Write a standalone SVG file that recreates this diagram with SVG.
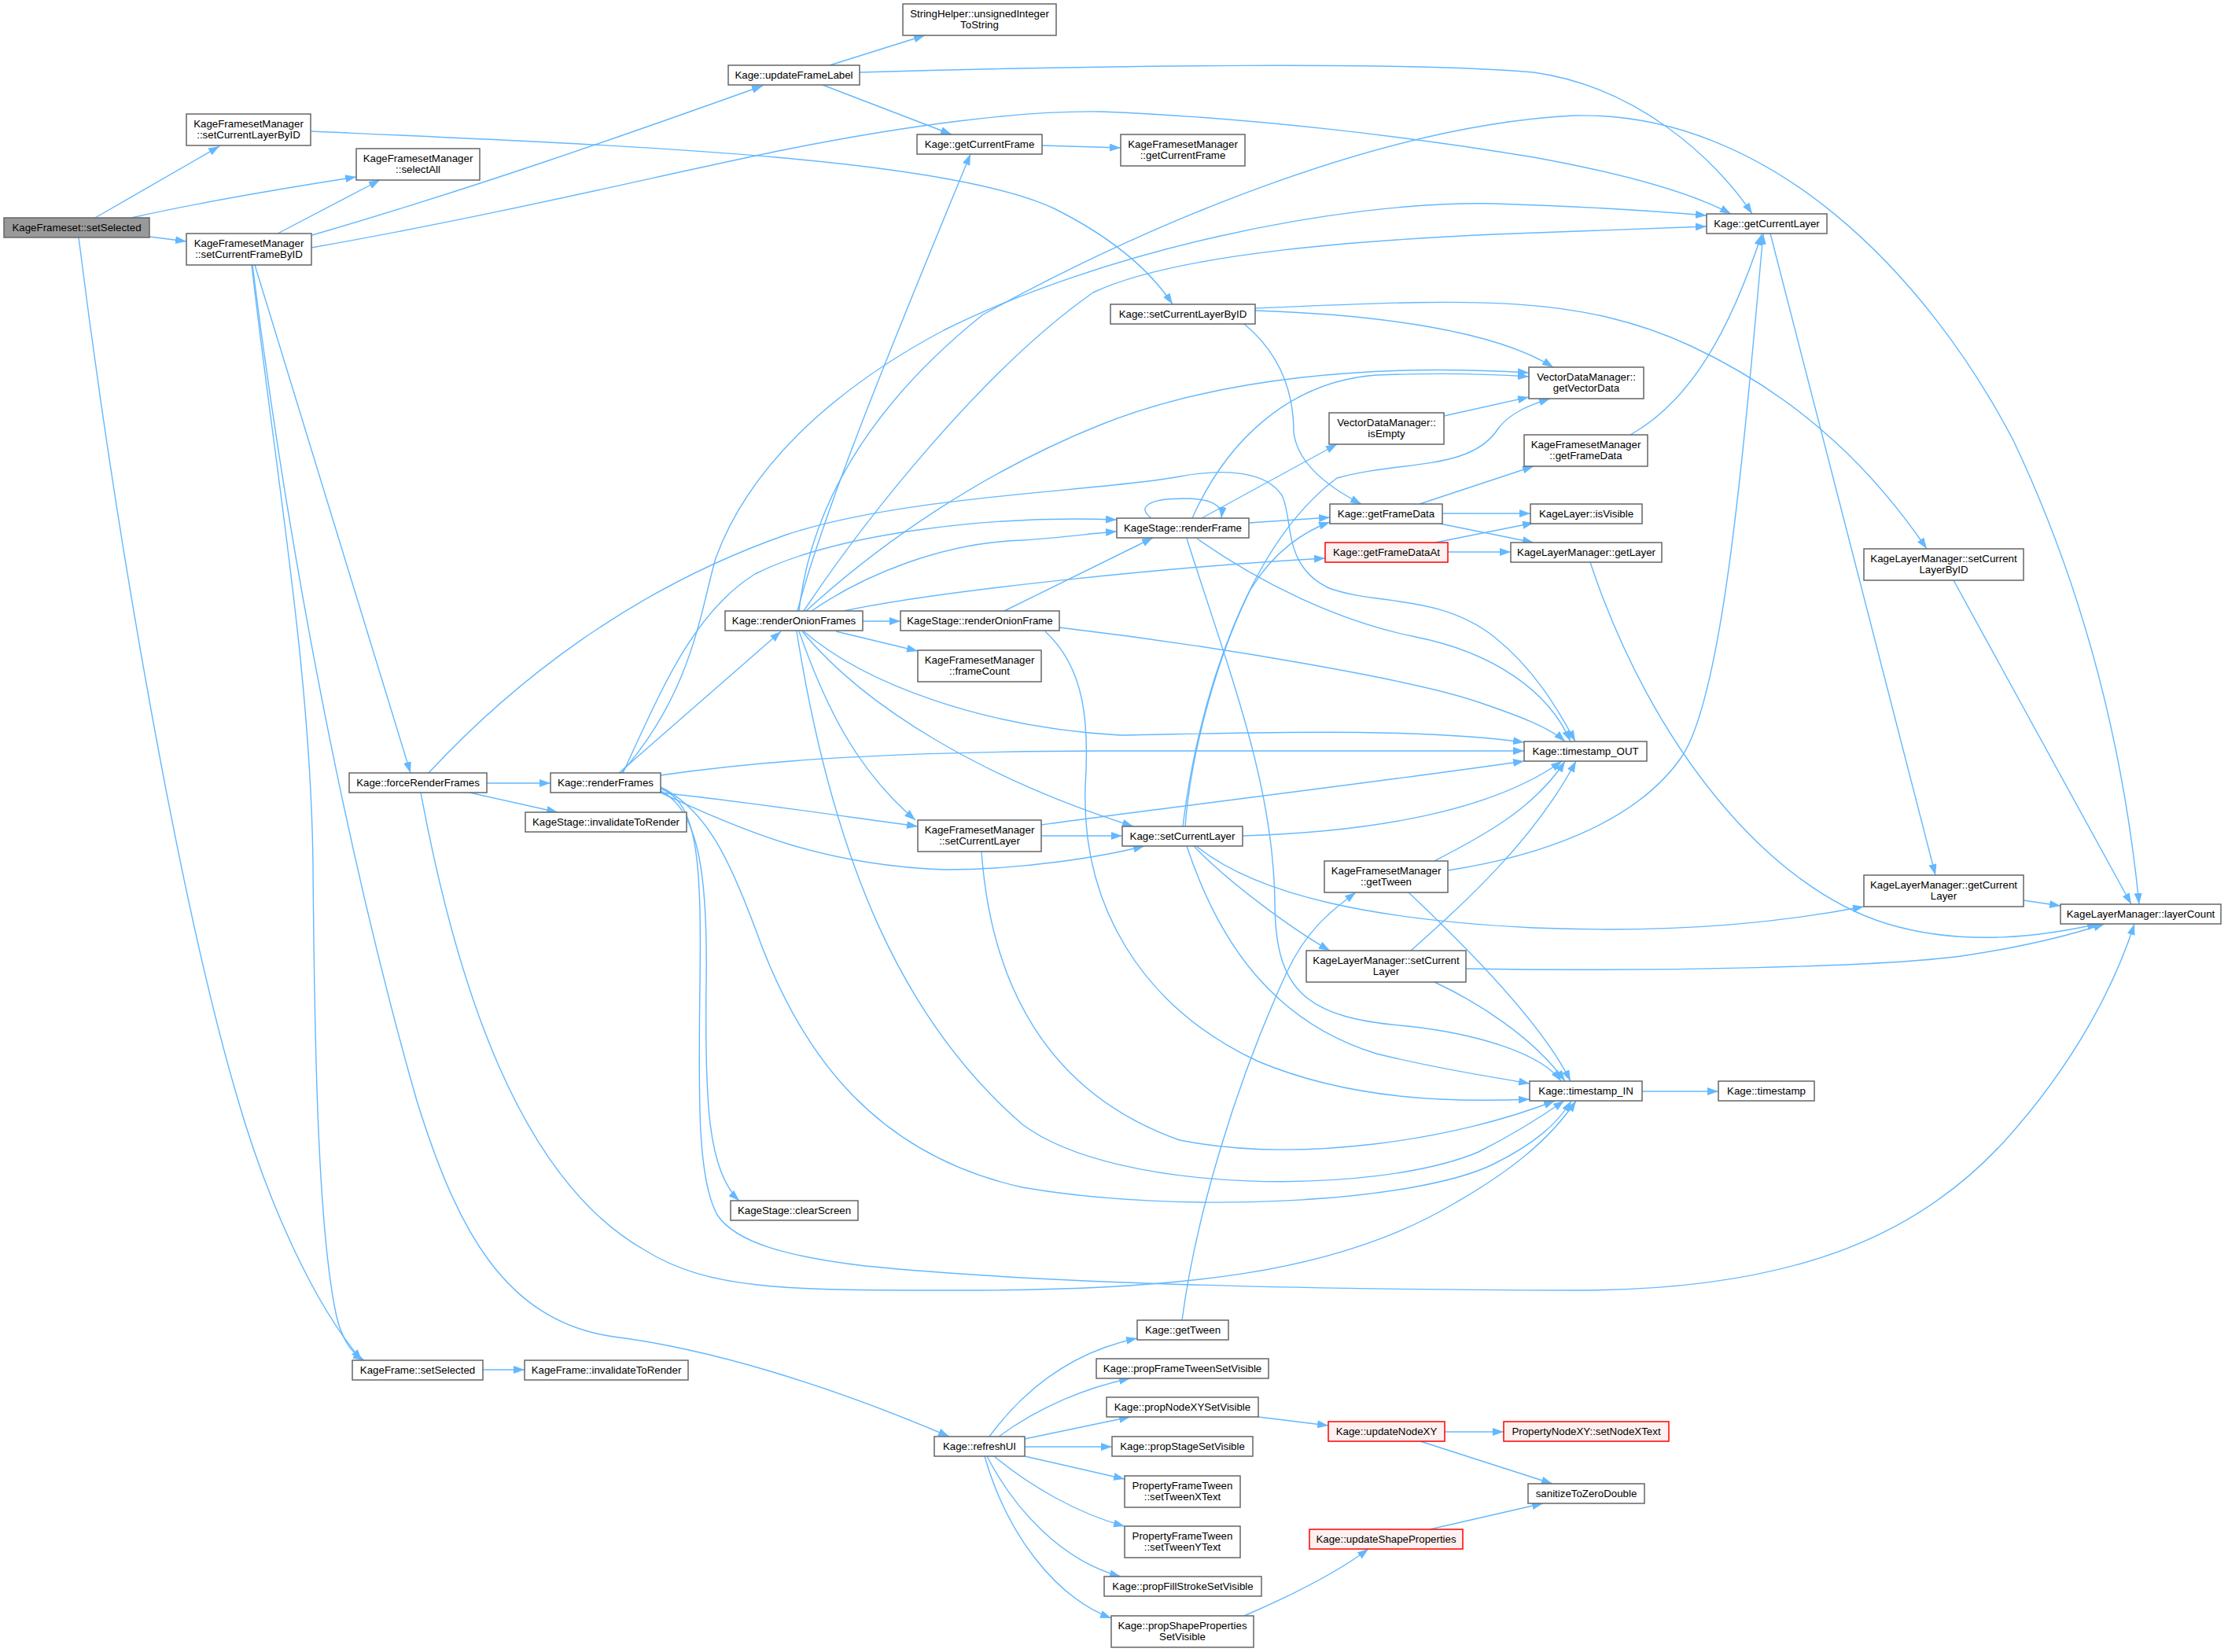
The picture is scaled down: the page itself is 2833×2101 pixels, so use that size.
<svg xmlns="http://www.w3.org/2000/svg" width="2833" height="2101" viewBox="0 0 2833 2101">
<defs>
<marker id="ah" viewBox="0 0 14 10" refX="14" refY="5" markerWidth="14" markerHeight="10" markerUnits="userSpaceOnUse" orient="auto"><path d="M0,0 L14,5 L0,10 z" fill="#63b8ff"/></marker>
<style>
.n rect{fill:#fff;stroke:#666;stroke-width:1.5}
.n.root rect{fill:#999}
.n.red rect{fill:#fff0f0;stroke:#f00}
.n text{font-family:"Liberation Sans",Arial,Helvetica,sans-serif;font-size:13.3px;fill:#000;text-anchor:middle}
#edges path{fill:none;stroke:#63b8ff;stroke-width:1.4;marker-end:url(#ah)}
</style>
</defs>
<rect width="2833" height="2101" fill="#fff"/>
<g id="edges">
<path d="M121,277 L279,186"/>
<path d="M167,277 C 250,258 370,238 453,225"/>
<path d="M190,301 L237,307"/>
<path d="M100,302 C 150,700 230,1150 300,1390 C 340,1530 400,1660 460,1730"/>
<path d="M396,167 C 800,185 1200,200 1340,265 C 1410,300 1460,340 1491,387"/>
<path d="M353,297 L483,229"/>
<path d="M397,299 C 600,240 800,170 970,109"/>
<path d="M396,315 C 650,270 850,220 1000,190 C 1150,160 1300,140 1400,142 C 1600,150 1800,175 1950,200 C 2060,220 2150,245 2201,272"/>
<path d="M324,337 L522,983"/>
<path d="M320,337 C 350,600 395,850 398,1100 C 400,1350 405,1550 425,1660 C 432,1700 445,1720 463,1730"/>
<path d="M321,337 C 360,650 430,1050 530,1400 C 580,1560 640,1680 780,1700 C 900,1715 1050,1760 1207,1827"/>
<path d="M1055,83 L1176,45"/>
<path d="M1046,108 L1210,171"/>
<path d="M1093,92 C 1400,83 1800,78 1950,92 C 2080,110 2180,200 2228,272"/>
<path d="M1325,185 L1425,188"/>
<path d="M1596,395 C 1750,400 1900,420 1975,467"/>
<path d="M1596,392 C 1850,382 2000,370 2150,440 C 2300,510 2390,610 2450,698"/>
<path d="M1582,412 C 1640,460 1645,520 1645,550 C 1650,590 1690,620 1731,641"/>
<path d="M1836,529 L1944,505"/>
<path d="M2073,553 C 2150,510 2200,420 2240,298"/>
<path d="M1805,641 L1950,593"/>
<path d="M1834,653 L1946,653"/>
<path d="M1831,666 L1950,690"/>
<path d="M1825,690 L1950,665"/>
<path d="M1841,702 L1921,702"/>
<path d="M2022,715 C 2100,950 2250,1130 2400,1175 C 2500,1205 2600,1190 2668,1175"/>
<path d="M2484,738 L2710,1150"/>
<path d="M2251,297 L2461,1113"/>
<path d="M2573,1145 L2620,1152"/>
<path d="M1025,777 C 1120,690 1250,600 1400,540 C 1550,480 1750,462 1944,474"/>
<path d="M1516,659 C 1560,560 1640,485 1750,477 C 1830,474 1900,476 1944,479"/>
<path d="M1504,1051 C 1525,880 1590,690 1700,608 C 1780,585 1870,600 1905,545 C 1920,525 1945,515 1971,507"/>
<path d="M1588,665 L1691,658"/>
<path d="M1507,1051 C 1515,950 1550,830 1590,750 C 1620,700 1660,675 1691,664"/>
<path d="M790,983 C 880,880 890,780 910,710 C 950,600 1050,500 1200,420 C 1400,320 1700,255 1900,259 C 2000,262 2100,268 2170,274"/>
<path d="M1016,777 C 1030,650 1100,520 1250,400 C 1450,290 1750,160 2000,147 C 2250,140 2450,350 2560,560 C 2650,750 2700,950 2720,1150"/>
<path d="M1022,777 C 1100,660 1250,470 1390,372 C 1500,320 1750,305 1900,298 C 2000,294 2100,290 2170,288"/>
<path d="M1014,777 C 1050,640 1150,400 1234,196"/>
<path d="M1032,777 C 1100,730 1200,690 1300,687 C 1350,684 1390,678 1420,676"/>
<path d="M1073,777 C 1200,750 1500,720 1685,710"/>
<path d="M1097,790 L1145,790"/>
<path d="M1063,803 L1167,828"/>
<path d="M787,983 L993,803"/>
<path d="M792,983 C 840,880 880,780 960,730 C 1060,680 1250,655 1420,661"/>
<path d="M545,983 C 650,870 800,750 1000,680 C 1150,630 1400,625 1500,606 C 1560,595 1610,600 1630,630 C 1645,660 1630,720 1690,748 C 1750,770 1830,755 1900,810 C 1950,850 1980,900 2003,943"/>
<path d="M840,986 C 950,970 1100,956 1400,955 L1938,955"/>
<path d="M1022,803 C 1100,870 1250,925 1424,935 C 1600,932 1800,925 1938,944"/>
<path d="M1020,803 C 1100,900 1250,990 1441,1051"/>
<path d="M1016,803 C 1050,900 1090,980 1164,1043"/>
<path d="M1013,803 C 1060,1100 1150,1300 1300,1430 C 1420,1520 1750,1520 1880,1465 C 1920,1445 1960,1420 1989,1400"/>
<path d="M840,1001 C 900,1030 930,1100 960,1180 C 1020,1350 1120,1470 1300,1510 C 1500,1545 1800,1530 1900,1480 C 1950,1455 1980,1430 1998,1400"/>
<path d="M1248,1083 C 1260,1250 1330,1390 1500,1450 C 1650,1480 1850,1450 1977,1400"/>
<path d="M535,1008 C 580,1250 660,1500 820,1590 C 900,1640 1000,1641 1200,1641 C 1500,1642 1700,1620 1850,1530 C 1920,1490 1970,1450 2004,1400"/>
<path d="M840,1003 C 888,1020 892,1100 890,1250 C 888,1400 887,1500 912,1545 C 935,1580 1000,1598 1100,1610 C 1300,1630 1600,1640 2000,1641 C 2300,1642 2450,1560 2550,1450 C 2640,1350 2690,1250 2714,1175"/>
<path d="M840,1006 C 890,1030 900,1120 898,1250 C 896,1400 900,1490 940,1527"/>
<path d="M840,1008 C 950,1020 1050,1035 1167,1051"/>
<path d="M840,1008 C 950,1060 1050,1100 1200,1106 C 1300,1106 1400,1090 1455,1076"/>
<path d="M1324,1063 L1427,1063"/>
<path d="M1324,1049 C 1500,1025 1750,995 1938,968"/>
<path d="M1580,1063 C 1750,1058 1900,1030 1986,968"/>
<path d="M1521,1076 C 1600,1140 1750,1170 1950,1180 C 2150,1188 2280,1170 2370,1153"/>
<path d="M1518,1076 C 1560,1120 1640,1180 1691,1209"/>
<path d="M1509,1076 C 1550,1200 1620,1300 1750,1340 C 1830,1360 1900,1370 1945,1378"/>
<path d="M1824,1095 C 1880,1066 1950,1030 1990,968"/>
<path d="M1841,1107 C 1950,1090 2080,1050 2140,960 C 2190,880 2215,600 2242,297"/>
<path d="M1791,1135 C 1860,1200 1960,1300 1997,1375"/>
<path d="M1794,1209 C 1860,1150 1950,1070 2004,968"/>
<path d="M1824,1249 C 1880,1275 1950,1320 1990,1375"/>
<path d="M1864,1232 C 2100,1236 2400,1230 2500,1215 C 2580,1203 2630,1190 2676,1175"/>
<path d="M1522,685 C 1600,740 1700,790 1800,810 C 1900,830 1970,880 1997,943"/>
<path d="M1509,685 C 1565,860 1620,1000 1621,1150 C 1622,1260 1660,1295 1790,1305 C 1880,1315 1960,1340 1985,1375"/>
<path d="M1347,798 C 1550,822 1800,865 1880,893 C 1930,910 1970,925 1990,943"/>
<path d="M1277,777 L1466,684"/>
<path d="M1329,803 C 1380,850 1385,920 1380,1000 C 1375,1150 1450,1280 1600,1350 C 1720,1400 1850,1402 1945,1398"/>
<path d="M1464,659 C 1445,645 1460,634 1505,634 C 1540,634 1555,642 1553,659"/>
<path d="M1528,659 L1700,565"/>
<path d="M2088,1388 L2185,1388"/>
<path d="M1503,1679 C 1520,1550 1570,1380 1636,1237 C 1660,1185 1690,1160 1724,1135"/>
<path d="M1258,1827 C 1300,1770 1360,1720 1446,1702"/>
<path d="M1270,1827 C 1320,1790 1380,1765 1437,1753"/>
<path d="M1303,1830 L1437,1802"/>
<path d="M1303,1840 L1414,1840"/>
<path d="M1303,1852 L1430,1881"/>
<path d="M1264,1852 C 1310,1890 1370,1925 1430,1941"/>
<path d="M1255,1852 C 1290,1920 1350,1985 1425,2005"/>
<path d="M1252,1852 C 1280,1950 1340,2030 1413,2058"/>
<path d="M1600,1802 L1689,1813"/>
<path d="M1837,1821 L1912,1821"/>
<path d="M1806,1833 L1974,1887"/>
<path d="M1818,1945 L1962,1912"/>
<path d="M1582,2055 C 1640,2030 1700,2000 1740,1970"/>
<path d="M619,996 L700,996"/>
<path d="M597,1008 L709,1033"/>
<path d="M614,1742 L667,1742"/>
</g>
<g id="n1" class="n root"><rect x="5" y="277" width="185" height="25"/><text x="97.5" y="294">KageFrameset::setSelected</text></g>
<g id="n2" class="n"><rect x="237" y="145" width="158" height="40"/><text x="316" y="162">KageFramesetManager</text><text x="316" y="176">::setCurrentLayerByID</text></g>
<g id="n3" class="n"><rect x="453" y="189" width="157" height="40"/><text x="531.5" y="206">KageFramesetManager</text><text x="531.5" y="220">::selectAll</text></g>
<g id="n4" class="n"><rect x="237" y="297" width="159" height="40"/><text x="316.5" y="314">KageFramesetManager</text><text x="316.5" y="328">::setCurrentFrameByID</text></g>
<g id="n5" class="n"><rect x="926" y="83" width="167" height="25"/><text x="1009.5" y="100">Kage::updateFrameLabel</text></g>
<g id="n6" class="n"><rect x="1148" y="5" width="195" height="40"/><text x="1245.5" y="22">StringHelper::unsignedInteger</text><text x="1245.5" y="36">ToString</text></g>
<g id="n7" class="n"><rect x="1166" y="171" width="159" height="25"/><text x="1245.5" y="188">Kage::getCurrentFrame</text></g>
<g id="n8" class="n"><rect x="1425" y="171" width="158" height="40"/><text x="1504" y="188">KageFramesetManager</text><text x="1504" y="202">::getCurrentFrame</text></g>
<g id="n9" class="n"><rect x="2170" y="272" width="153" height="25"/><text x="2246.5" y="289">Kage::getCurrentLayer</text></g>
<g id="n10" class="n"><rect x="1412" y="387" width="184" height="25"/><text x="1504" y="404">Kage::setCurrentLayerByID</text></g>
<g id="n11" class="n"><rect x="1944" y="467" width="146" height="40"/><text x="2017" y="484">VectorDataManager::</text><text x="2017" y="498">getVectorData</text></g>
<g id="n12" class="n"><rect x="1690" y="525" width="146" height="40"/><text x="1763" y="542">VectorDataManager::</text><text x="1763" y="556">isEmpty</text></g>
<g id="n13" class="n"><rect x="1938" y="553" width="157" height="40"/><text x="2016.5" y="570">KageFramesetManager</text><text x="2016.5" y="584">::getFrameData</text></g>
<g id="n14" class="n"><rect x="1691" y="641" width="143" height="25"/><text x="1762.5" y="658">Kage::getFrameData</text></g>
<g id="n15" class="n"><rect x="1946" y="641" width="142" height="25"/><text x="2017" y="658">KageLayer::isVisible</text></g>
<g id="n16" class="n"><rect x="1420" y="659" width="168" height="25"/><text x="1504" y="676">KageStage::renderFrame</text></g>
<g id="n17" class="n red"><rect x="1685" y="690" width="156" height="25"/><text x="1763" y="707">Kage::getFrameDataAt</text></g>
<g id="n18" class="n"><rect x="1921" y="690" width="192" height="25"/><text x="2017" y="707">KageLayerManager::getLayer</text></g>
<g id="n19" class="n"><rect x="2370" y="698" width="203" height="40"/><text x="2471.5" y="715">KageLayerManager::setCurrent</text><text x="2471.5" y="729">LayerByID</text></g>
<g id="n20" class="n"><rect x="922" y="777" width="175" height="25"/><text x="1009.5" y="794">Kage::renderOnionFrames</text></g>
<g id="n21" class="n"><rect x="1145" y="777" width="202" height="25"/><text x="1246" y="794">KageStage::renderOnionFrame</text></g>
<g id="n22" class="n"><rect x="1167" y="827" width="157" height="40"/><text x="1245.5" y="844">KageFramesetManager</text><text x="1245.5" y="858">::frameCount</text></g>
<g id="n23" class="n"><rect x="1938" y="943" width="156" height="25"/><text x="2016" y="960">Kage::timestamp_OUT</text></g>
<g id="n24" class="n"><rect x="444" y="983" width="175" height="25"/><text x="531.5" y="1000">Kage::forceRenderFrames</text></g>
<g id="n25" class="n"><rect x="700" y="983" width="140" height="25"/><text x="770" y="1000">Kage::renderFrames</text></g>
<g id="n26" class="n"><rect x="668" y="1033" width="205" height="25"/><text x="770.5" y="1050">KageStage::invalidateToRender</text></g>
<g id="n27" class="n"><rect x="1167" y="1043" width="157" height="40"/><text x="1245.5" y="1060">KageFramesetManager</text><text x="1245.5" y="1074">::setCurrentLayer</text></g>
<g id="n28" class="n"><rect x="1427" y="1051" width="153" height="25"/><text x="1503.5" y="1068">Kage::setCurrentLayer</text></g>
<g id="n29" class="n"><rect x="1684" y="1095" width="157" height="40"/><text x="1762.5" y="1112">KageFramesetManager</text><text x="1762.5" y="1126">::getTween</text></g>
<g id="n30" class="n"><rect x="2370" y="1113" width="203" height="40"/><text x="2471.5" y="1130">KageLayerManager::getCurrent</text><text x="2471.5" y="1144">Layer</text></g>
<g id="n31" class="n"><rect x="2620" y="1150" width="204" height="25"/><text x="2722" y="1167">KageLayerManager::layerCount</text></g>
<g id="n32" class="n"><rect x="1661" y="1209" width="203" height="40"/><text x="1762.5" y="1226">KageLayerManager::setCurrent</text><text x="1762.5" y="1240">Layer</text></g>
<g id="n33" class="n"><rect x="1945" y="1375" width="143" height="25"/><text x="2016.5" y="1392">Kage::timestamp_IN</text></g>
<g id="n34" class="n"><rect x="2185" y="1375" width="122" height="25"/><text x="2246" y="1392">Kage::timestamp</text></g>
<g id="n35" class="n"><rect x="929" y="1527" width="162" height="25"/><text x="1010" y="1544">KageStage::clearScreen</text></g>
<g id="n36" class="n"><rect x="1446" y="1679" width="116" height="25"/><text x="1504" y="1696">Kage::getTween</text></g>
<g id="n37" class="n"><rect x="448" y="1730" width="166" height="25"/><text x="531" y="1747">KageFrame::setSelected</text></g>
<g id="n38" class="n"><rect x="667" y="1730" width="208" height="25"/><text x="771" y="1747">KageFrame::invalidateToRender</text></g>
<g id="n39" class="n"><rect x="1394" y="1728" width="219" height="25"/><text x="1503.5" y="1745">Kage::propFrameTweenSetVisible</text></g>
<g id="n40" class="n"><rect x="1407" y="1777" width="193" height="25"/><text x="1503.5" y="1794">Kage::propNodeXYSetVisible</text></g>
<g id="n41" class="n red"><rect x="1689" y="1808" width="148" height="25"/><text x="1763" y="1825">Kage::updateNodeXY</text></g>
<g id="n42" class="n red"><rect x="1912" y="1808" width="210" height="25"/><text x="2017" y="1825">PropertyNodeXY::setNodeXText</text></g>
<g id="n43" class="n"><rect x="1188" y="1827" width="115" height="25"/><text x="1245.5" y="1844">Kage::refreshUI</text></g>
<g id="n44" class="n"><rect x="1414" y="1827" width="179" height="25"/><text x="1503.5" y="1844">Kage::propStageSetVisible</text></g>
<g id="n45" class="n"><rect x="1430" y="1877" width="147" height="40"/><text x="1503.5" y="1894">PropertyFrameTween</text><text x="1503.5" y="1908">::setTweenXText</text></g>
<g id="n46" class="n"><rect x="1943" y="1887" width="148" height="25"/><text x="2017" y="1904">sanitizeToZeroDouble</text></g>
<g id="n47" class="n"><rect x="1430" y="1941" width="147" height="40"/><text x="1503.5" y="1958">PropertyFrameTween</text><text x="1503.5" y="1972">::setTweenYText</text></g>
<g id="n48" class="n red"><rect x="1665" y="1945" width="195" height="25"/><text x="1762.5" y="1962">Kage::updateShapeProperties</text></g>
<g id="n49" class="n"><rect x="1404" y="2005" width="200" height="25"/><text x="1504" y="2022">Kage::propFillStrokeSetVisible</text></g>
<g id="n50" class="n"><rect x="1413" y="2055" width="181" height="40"/><text x="1503.5" y="2072">Kage::propShapeProperties</text><text x="1503.5" y="2086">SetVisible</text></g>
</svg>
